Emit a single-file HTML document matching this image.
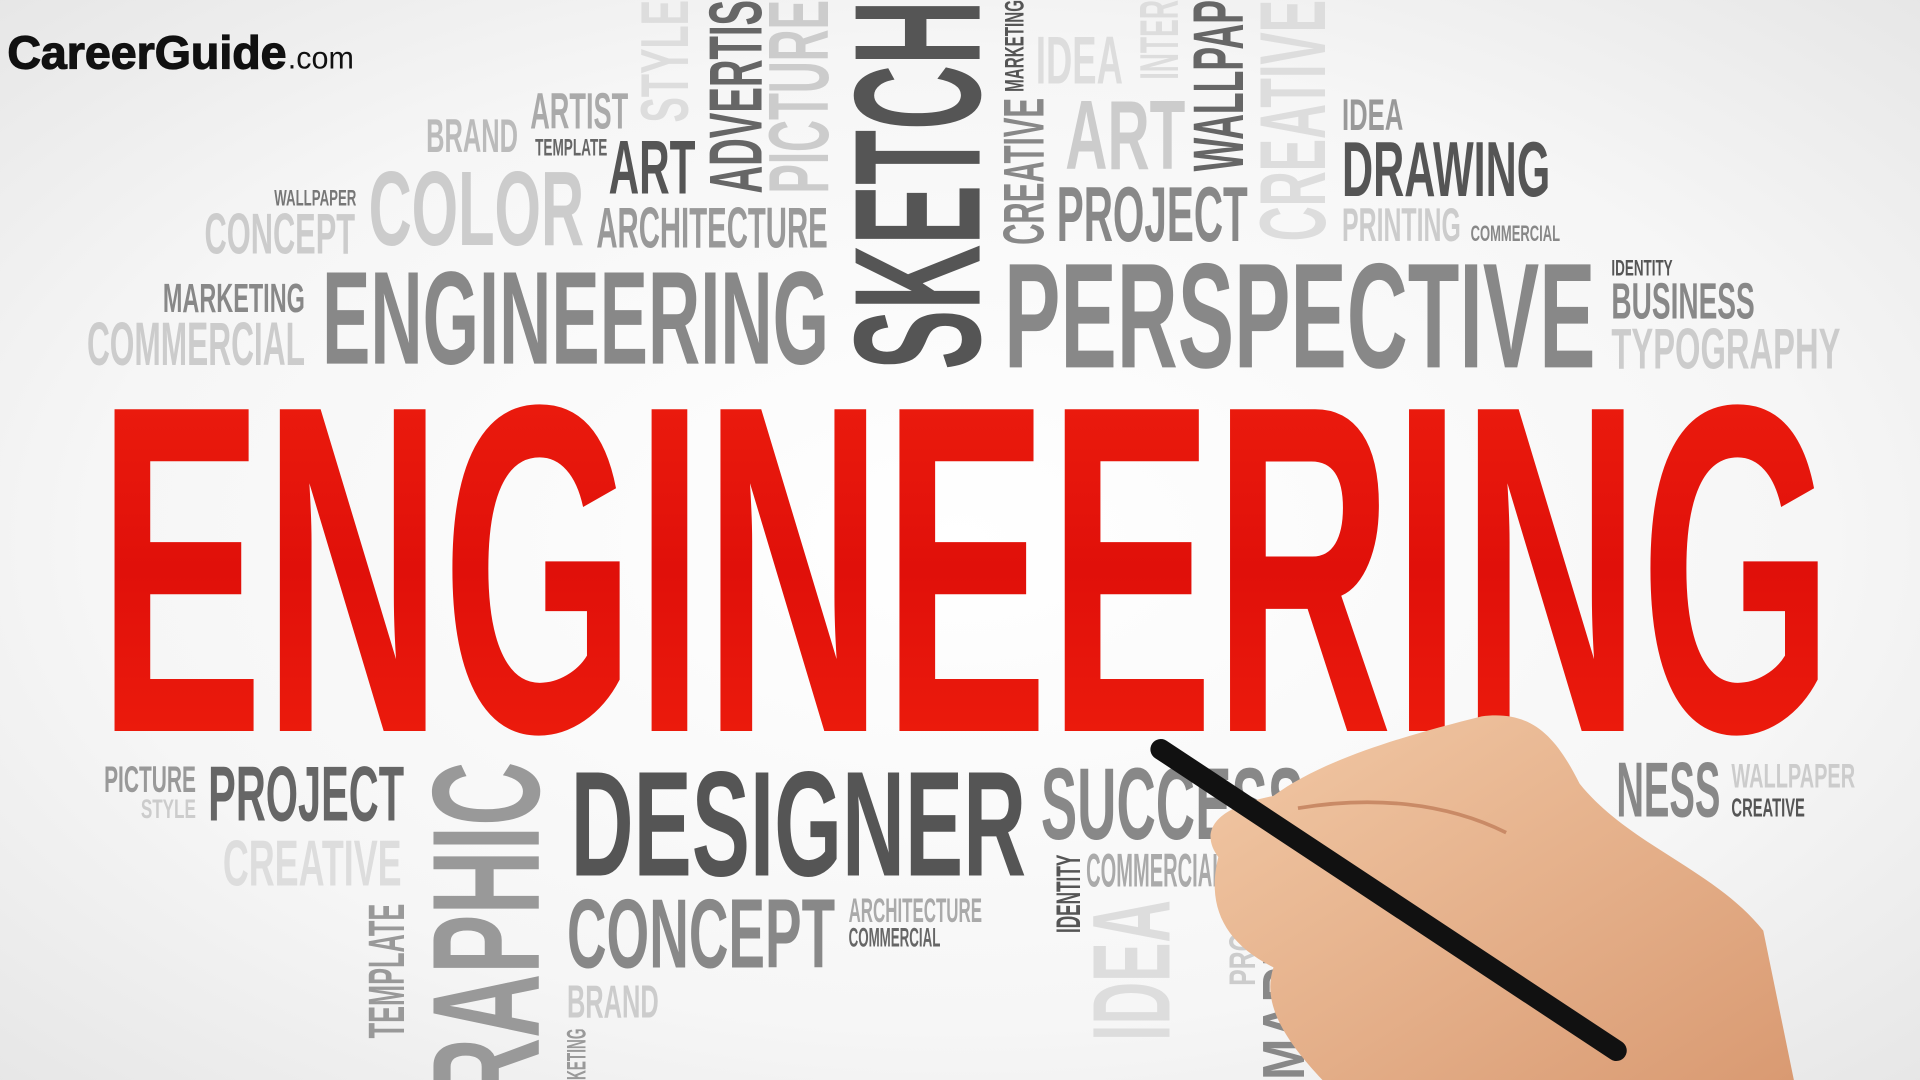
<!DOCTYPE html>
<html><head><meta charset="utf-8"><style>
html,body{margin:0;padding:0;width:1920px;height:1080px;overflow:hidden;background:#f2f2f2}
svg{display:block}
</style></head><body>
<svg id="cloud" width="1920" height="1080" viewBox="0 0 1568 882" xmlns="http://www.w3.org/2000/svg" font-family="'Liberation Sans', sans-serif" font-weight="bold">
<defs>
<radialGradient id="bg" cx="0.5" cy="0.5" r="0.75"><stop offset="0" stop-color="#ffffff"/><stop offset="0.6" stop-color="#f6f6f6"/><stop offset="1" stop-color="#e4e4e4"/></radialGradient>
<linearGradient id="red" x1="0" y1="0" x2="0" y2="1"><stop offset="0" stop-color="#f0200f"/><stop offset="0.5" stop-color="#e0100a"/><stop offset="1" stop-color="#f2200e"/></linearGradient>
<linearGradient id="skin" x1="0" y1="0" x2="1" y2="1"><stop offset="0" stop-color="#f2c9a6"/><stop offset="1" stop-color="#d99a72"/></linearGradient>
</defs>
<rect width="1568" height="882" fill="url(#bg)"/>
<g id="words"></g>
<text x="80" y="597" font-size="382" textLength="1417" lengthAdjust="spacingAndGlyphs" fill="url(#red)">ENGINEERING</text>
<g>
<text x="6" y="56" font-size="38" textLength="228" lengthAdjust="spacingAndGlyphs" fill="#111" stroke="#111" stroke-width="1">CareerGuide</text>
<text x="235" y="56" font-size="26" font-weight="normal" textLength="54" lengthAdjust="spacingAndGlyphs" fill="#111">.com</text>
</g>
<g>
<path d="M1040,650 C1080,620 1150,600 1210,585 C1250,580 1270,600 1290,640 C1330,690 1400,710 1440,760 L1465,882 L1080,882 C1050,850 1030,820 1040,790 C1000,770 985,740 995,700 C980,680 990,660 1040,650 Z" fill="url(#skin)"/>
<line x1="948" y1="612" x2="1320" y2="858" stroke="#111" stroke-width="17" stroke-linecap="round"/>
<path d="M1060,660 C1120,650 1180,655 1230,680" stroke="#c98a66" stroke-width="3" fill="none"/>
</g>
</svg>
<script>
const wordText=["BRAND","ARTIST","TEMPLATE","ART","COLOR","WALLPAPER","CONCEPT","ARCHITECTURE","MARKETING","ENGINEERING","COMMERCIAL","IDEA","ART","PROJECT","PERSPECTIVE","IDEA","DRAWING","PRINTING","COMMERCIAL","IDENTITY","BUSINESS","TYPOGRAPHY","PICTURE","STYLE","PROJECT","CREATIVE","DESIGNER","CONCEPT","BRAND","ARCHITECTURE","COMMERCIAL","SUCCESS","COMMERCIAL","NESS","WALLPAPER","CREATIVE"];
const wordX0=[348,433,437,497,301,224,167,487,133,263,71,846,870,863,820,1096,1096,1096,1201,1316,1316,1316,85,115,170,182,466,463,463,693,693,850,887,1320,1414,1414];
const wordX1=[423,513,496,568,477,291,290,676,249,677,249,917,968,1019,1303,1146,1266,1193,1274,1366,1433,1503,160,160,330,328,838,682,538,802,768,1065,1000,1405,1515,1474];
const wordY=[124,105,127,158,200,168,207,202,255,297,298,68,138,197,300,106,160,197,197,225,260,301,647,668,670,723,715,790,831,753,773,685,724,667,643,667];
const wordCap=[28,30,14,45,62,13,34,34,24,78,36,40,58,46,88,26,46,28,13,13,30,34,22,16,46,38,88,58,27,20,16,60,28,46,20,15];
const wordColor=["#bbb","#aaa","#666","#555","#ccc","#777","#ccc","#999","#888","#888","#ccc","#ddd","#ccc","#888","#888","#999","#555","#ccc","#888","#555","#888","#ccc","#999","#ccc","#666","#ddd","#555","#888","#ccc","#aaa","#666","#888","#aaa","#888","#ccc","#555"];
const vText=["STYLE","ADVERTIS","PICTURE","SKETCH","MARKETING","CREATIVE","INTER","WALLPAP","CREATIVE","RAPHIC","TEMPLATE","KETING","IDENTITY","IDEA","PROJ","MARK"];
const vX0=[522,578,626,694,820,818,930,973,1027,350,300,462,862,890,1003,1030];
const vX1=[562,622,676,800,836,852,962,1015,1082,440,330,478,882,955,1025,1065];
const vY0=[0,0,0,0,0,80,0,0,0,622,738,840,698,735,750,760];
const vY1=[100,158,158,302,75,200,65,140,197,900,848,882,762,850,805,882];
const vColor=["#ddd","#666","#ccc","#555","#555","#888","#ddd","#666","#ddd","#999","#999","#999","#555","#ddd","#ccc","#888"];
const NS="http://www.w3.org/2000/svg";
const g=document.getElementById('words');
for(let i=0;i<wordText.length;i++){
  const t=document.createElementNS(NS,'text');
  
  
  t.setAttribute('x',wordX0[i]);
  t.setAttribute('y',wordY[i]);
  t.setAttribute('font-size',(wordCap[i]/0.72).toFixed(1));
  t.setAttribute('textLength',wordX1[i]-wordX0[i]);
  t.setAttribute('lengthAdjust','spacingAndGlyphs');
  t.setAttribute('fill',wordColor[i]);
  t.textContent=wordText[i];
  g.appendChild(t);
}
for(let i=0;i<vText.length;i++){
  const t=document.createElementNS(NS,'text');
  
  
  t.setAttribute('transform','translate('+vX1[i]+','+vY1[i]+') rotate(-90)');
  t.setAttribute('x',0);
  t.setAttribute('y',0);
  t.setAttribute('font-size',((vX1[i]-vX0[i])/0.72).toFixed(1));
  t.setAttribute('textLength',vY1[i]-vY0[i]);
  t.setAttribute('lengthAdjust','spacingAndGlyphs');
  t.setAttribute('fill',vColor[i]);
  t.textContent=vText[i];
  g.appendChild(t);
}
</script>
</body></html>
